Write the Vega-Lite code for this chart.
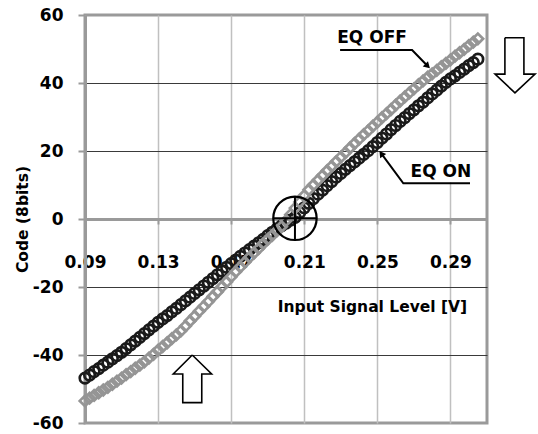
{
  "$schema": "https://vega.github.io/schema/vega-lite/v6.json",
  "width": 402,
  "height": 408,
  "autosize": {"type": "none"},
  "padding": {"left": 85, "top": 15, "right": 51, "bottom": 11},
  "background": "white",
  "config": {
    "view": {"stroke": "#9a9a9a", "strokeWidth": 3},
    "font": "DejaVu Sans"
  },
  "datasets": {
    "eq_on": [
      {"x":0.09,"y":-46.8},{"x":0.0925,"y":-45.9},{"x":0.095,"y":-44.9},{"x":0.0975,"y":-44.0},
      {"x":0.1,"y":-43.0},{"x":0.1025,"y":-42.1},{"x":0.105,"y":-41.1},{"x":0.1075,"y":-40.2},
      {"x":0.11,"y":-39.2},{"x":0.1125,"y":-38.1},{"x":0.115,"y":-37.0},{"x":0.1175,"y":-35.9},
      {"x":0.12,"y":-34.8},{"x":0.1225,"y":-33.7},{"x":0.125,"y":-32.6},{"x":0.1275,"y":-31.5},
      {"x":0.13,"y":-30.4},{"x":0.1325,"y":-29.4},{"x":0.135,"y":-28.4},{"x":0.1375,"y":-27.3},
      {"x":0.14,"y":-26.3},{"x":0.1425,"y":-25.2},{"x":0.145,"y":-24.1},{"x":0.1475,"y":-23.0},
      {"x":0.15,"y":-21.9},{"x":0.1525,"y":-20.8},{"x":0.155,"y":-19.7},{"x":0.1575,"y":-18.6},
      {"x":0.16,"y":-17.5},{"x":0.1625,"y":-16.4},{"x":0.165,"y":-15.3},{"x":0.1675,"y":-14.2},
      {"x":0.17,"y":-13.1},{"x":0.1725,"y":-12.1},{"x":0.175,"y":-11.0},{"x":0.1775,"y":-10.0},
      {"x":0.18,"y":-9.0},{"x":0.1825,"y":-8.0},{"x":0.185,"y":-7.0},{"x":0.1875,"y":-6.0},
      {"x":0.19,"y":-4.9},{"x":0.1925,"y":-3.9},{"x":0.195,"y":-2.9},{"x":0.1975,"y":-2.0},
      {"x":0.2,"y":-1.2},{"x":0.2025,"y":-0.3},{"x":0.205,"y":0.5},{"x":0.2075,"y":1.9},
      {"x":0.21,"y":3.3},{"x":0.2125,"y":4.6},{"x":0.215,"y":6.0},{"x":0.2175,"y":7.3},
      {"x":0.22,"y":8.5},{"x":0.2225,"y":9.8},{"x":0.225,"y":11.0},{"x":0.2275,"y":12.3},
      {"x":0.23,"y":13.4},{"x":0.2325,"y":14.6},{"x":0.235,"y":15.7},{"x":0.2375,"y":16.8},
      {"x":0.24,"y":17.9},{"x":0.2425,"y":19.0},{"x":0.245,"y":20.1},{"x":0.2475,"y":21.3},
      {"x":0.25,"y":22.5},{"x":0.2525,"y":23.8},{"x":0.255,"y":25.0},{"x":0.2575,"y":26.3},
      {"x":0.26,"y":27.5},{"x":0.2625,"y":28.7},{"x":0.265,"y":29.8},{"x":0.2675,"y":31.0},
      {"x":0.27,"y":32.1},{"x":0.2725,"y":33.3},{"x":0.275,"y":34.4},{"x":0.2775,"y":35.6},
      {"x":0.28,"y":36.8},{"x":0.2825,"y":37.9},{"x":0.285,"y":39.1},{"x":0.2875,"y":40.2},
      {"x":0.29,"y":41.2},{"x":0.2925,"y":42.1},{"x":0.295,"y":43.1},{"x":0.2975,"y":44.1},
      {"x":0.3,"y":45.1},{"x":0.3025,"y":46.0},{"x":0.305,"y":47.0}
    ],
    "eq_off": [
      {"x":0.09,"y":-53.5},{"x":0.0925,"y":-52.7},{"x":0.095,"y":-51.9},{"x":0.0975,"y":-51.1},
      {"x":0.1,"y":-50.3},{"x":0.1025,"y":-49.5},{"x":0.105,"y":-48.6},{"x":0.1075,"y":-47.7},
      {"x":0.11,"y":-46.8},{"x":0.1125,"y":-45.8},{"x":0.115,"y":-44.9},{"x":0.1175,"y":-43.9},
      {"x":0.12,"y":-43.0},{"x":0.1225,"y":-42.0},{"x":0.125,"y":-40.9},{"x":0.1275,"y":-39.8},
      {"x":0.13,"y":-38.6},{"x":0.1325,"y":-37.5},{"x":0.135,"y":-36.4},{"x":0.1375,"y":-35.2},
      {"x":0.14,"y":-34.1},{"x":0.1425,"y":-32.9},{"x":0.145,"y":-31.5},{"x":0.1475,"y":-30.0},
      {"x":0.15,"y":-28.6},{"x":0.1525,"y":-27.1},{"x":0.155,"y":-25.7},{"x":0.1575,"y":-24.3},
      {"x":0.16,"y":-22.8},{"x":0.1625,"y":-21.4},{"x":0.165,"y":-19.9},{"x":0.1675,"y":-18.5},
      {"x":0.17,"y":-17.0},{"x":0.1725,"y":-15.5},{"x":0.175,"y":-14.1},{"x":0.1775,"y":-12.7},
      {"x":0.18,"y":-11.3},{"x":0.1825,"y":-10.0},{"x":0.185,"y":-8.7},{"x":0.1875,"y":-7.3},
      {"x":0.19,"y":-6.0},{"x":0.1925,"y":-4.8},{"x":0.195,"y":-3.5},{"x":0.1975,"y":-2.3},
      {"x":0.2,"y":-0.5},{"x":0.2025,"y":1.3},{"x":0.205,"y":3.2},{"x":0.2075,"y":5.0},
      {"x":0.21,"y":6.9},{"x":0.2125,"y":8.6},{"x":0.215,"y":10.0},{"x":0.2175,"y":11.4},
      {"x":0.22,"y":12.8},{"x":0.2225,"y":14.2},{"x":0.225,"y":15.5},{"x":0.2275,"y":16.9},
      {"x":0.23,"y":18.2},{"x":0.2325,"y":19.5},{"x":0.235,"y":20.9},{"x":0.2375,"y":22.2},
      {"x":0.24,"y":23.5},{"x":0.2425,"y":24.8},{"x":0.245,"y":26.0},{"x":0.2475,"y":27.3},
      {"x":0.25,"y":28.5},{"x":0.2525,"y":29.8},{"x":0.255,"y":31.0},{"x":0.2575,"y":32.2},
      {"x":0.26,"y":33.5},{"x":0.2625,"y":34.7},{"x":0.265,"y":35.9},{"x":0.2675,"y":37.1},
      {"x":0.27,"y":38.3},{"x":0.2725,"y":39.5},{"x":0.275,"y":40.6},{"x":0.2775,"y":41.7},
      {"x":0.28,"y":42.7},{"x":0.2825,"y":43.7},{"x":0.285,"y":44.8},{"x":0.2875,"y":45.8},
      {"x":0.29,"y":46.8},{"x":0.2925,"y":47.9},{"x":0.295,"y":48.9},{"x":0.2975,"y":49.9},
      {"x":0.3,"y":51.0},{"x":0.3025,"y":52.0},{"x":0.305,"y":53.0}
    ],
    "block_arrows": [
      {"shape":"down","ord":0,"x":0.3198,"y":53.3},
      {"shape":"down","ord":1,"x":0.3302,"y":53.3},
      {"shape":"down","ord":2,"x":0.3302,"y":42.6},
      {"shape":"down","ord":3,"x":0.3363,"y":42.6},
      {"shape":"down","ord":4,"x":0.3253,"y":37.1},
      {"shape":"down","ord":5,"x":0.3144,"y":42.6},
      {"shape":"down","ord":6,"x":0.3198,"y":42.6},
      {"shape":"down","ord":7,"x":0.3198,"y":53.3},
      {"shape":"up","ord":0,"x":0.1487,"y":-40.0},
      {"shape":"up","ord":1,"x":0.1593,"y":-45.6},
      {"shape":"up","ord":2,"x":0.1539,"y":-45.6},
      {"shape":"up","ord":3,"x":0.1539,"y":-54.0},
      {"shape":"up","ord":4,"x":0.1435,"y":-54.0},
      {"shape":"up","ord":5,"x":0.1435,"y":-45.6},
      {"shape":"up","ord":6,"x":0.1383,"y":-45.6},
      {"shape":"up","ord":7,"x":0.1487,"y":-40.0}
    ],
    "label_boxes": [
      {"x":0.2274,"x2":0.2679,"y":49.4,"y2":55.6},
      {"x":0.2657,"x2":0.3029,"y":10.8,"y2":16.8}
    ],
    "leaders": [
      {"name":"off","ord":0,"x":0.2296,"y":49.7},
      {"name":"off","ord":1,"x":0.2690,"y":49.7},
      {"name":"off","ord":2,"x":0.2771,"y":45.2},
      {"name":"on","ord":0,"x":0.3007,"y":10.5},
      {"name":"on","ord":1,"x":0.2642,"y":10.5},
      {"name":"on","ord":2,"x":0.2525,"y":19.0}
    ],
    "head_off": [{"x":0.2771,"y":45.2}],
    "head_on": [{"x":0.2525,"y":19.0}],
    "zero_mark": [{"x":0.2049,"y":0.2}],
    "cross": [
      {"x":0.1930,"x2":0.2168,"y":0.2,"y2":0.2},
      {"x":0.2049,"x2":0.2049,"y":-6.2,"y2":6.6}
    ],
    "labels": [
      {"x":0.2471,"y":53.1,"label":"EQ OFF"},
      {"x":0.2848,"y":13.7,"label":"EQ ON"}
    ]
  },
  "encoding": {
    "x": {
      "field": "x",
      "type": "quantitative",
      "scale": {"domain": [0.09, 0.31], "nice": false, "zero": false},
      "axis": {
        "title": "Input Signal Level  [V]",
        "orient": "bottom",
        "offset": -204,
        "values": [0.09, 0.13, 0.17, 0.21, 0.25, 0.29],
        "format": ".2f",
        "domainColor": "#9a9a9a",
        "domainWidth": 3,
        "tickColor": "#9a9a9a",
        "tickWidth": 2,
        "tickSize": 5,
        "labelFont": "DejaVu Sans",
        "labelFontWeight": "bold",
        "labelFontSize": 17,
        "labelColor": "#000000",
        "labelPadding": 30,
        "labelFlush": false,
        "labelOverlap": false,
        "grid": true,
        "gridColor": "#c0c0c0",
        "gridWidth": 1.5,
        "titleFont": "DejaVu Sans",
        "titleFontWeight": "bold",
        "titleFontSize": 15.5,
        "titleColor": "#000000",
        "titleX": 287,
        "titleY": 87,
        "titleAlign": "center",
        "titleBaseline": "middle"
      }
    },
    "y": {
      "field": "y",
      "type": "quantitative",
      "scale": {"domain": [-60, 60], "nice": false},
      "axis": {
        "title": "Code (8bits)",
        "values": [-60, -40, -20, 0, 20, 40, 60],
        "labelExpr": "datum.value < 0 ? '-' + abs(datum.value) : '' + datum.value",
        "domainColor": "#9a9a9a",
        "domainWidth": 3,
        "tickColor": "#9a9a9a",
        "tickWidth": 2,
        "tickSize": 7,
        "labelFont": "DejaVu Sans",
        "labelFontWeight": "bold",
        "labelFontSize": 17,
        "labelColor": "#000000",
        "labelPadding": 15,
        "labelOverlap": false,
        "grid": true,
        "gridColor": {
          "condition": {"test": "datum.value == 0 || abs(datum.value) == 60", "value": "transparent"},
          "value": "#3a3a3a"
        },
        "gridWidth": 1.2,
        "titleFont": "DejaVu Sans",
        "titleFontWeight": "bold",
        "titleFontSize": 15.5,
        "titleColor": "#000000",
        "titlePadding": 2
      }
    }
  },
  "layer": [
    {
      "data": {"name": "eq_on"},
      "mark": {"type": "point", "shape": "circle", "filled": false, "size": 110, "strokeWidth": 2.7, "color": "#1a1a1a", "opacity": 1}
    },
    {
      "data": {"name": "eq_off"},
      "mark": {"type": "point", "shape": "diamond", "filled": false, "size": 110, "strokeWidth": 2.7, "color": "#959595", "opacity": 1}
    },
    {
      "data": {"name": "label_boxes"},
      "mark": {"type": "rect", "fill": "white", "stroke": null},
      "encoding": {"x2": {"field": "x2"}, "y2": {"field": "y2"}}
    },
    {
      "data": {"name": "block_arrows"},
      "mark": {"type": "line", "color": "#000000", "strokeWidth": 1.6, "clip": false},
      "encoding": {
        "detail": {"field": "shape"},
        "order": {"field": "ord", "type": "quantitative"}
      }
    },
    {
      "data": {"name": "leaders"},
      "mark": {"type": "line", "color": "#000000", "strokeWidth": 2},
      "encoding": {
        "detail": {"field": "name"},
        "order": {"field": "ord", "type": "quantitative"}
      }
    },
    {
      "data": {"name": "head_off"},
      "mark": {"type": "point", "shape": "triangle", "filled": true, "size": 55, "color": "#000000", "opacity": 1, "angle": 135}
    },
    {
      "data": {"name": "head_on"},
      "mark": {"type": "point", "shape": "triangle", "filled": true, "size": 55, "color": "#000000", "opacity": 1, "angle": 324}
    },
    {
      "data": {"name": "zero_mark"},
      "mark": {"type": "point", "shape": "circle", "filled": false, "size": 1884, "strokeWidth": 2.2, "color": "#000000", "opacity": 1}
    },
    {
      "data": {"name": "cross"},
      "mark": {"type": "rule", "color": "#000000", "strokeWidth": 2},
      "encoding": {"x2": {"field": "x2"}, "y2": {"field": "y2"}}
    },
    {
      "data": {"name": "labels"},
      "mark": {"type": "text", "font": "DejaVu Sans", "fontWeight": "bold", "fontSize": 17, "color": "#000000", "align": "center", "baseline": "middle"},
      "encoding": {"text": {"field": "label"}}
    }
  ]
}
